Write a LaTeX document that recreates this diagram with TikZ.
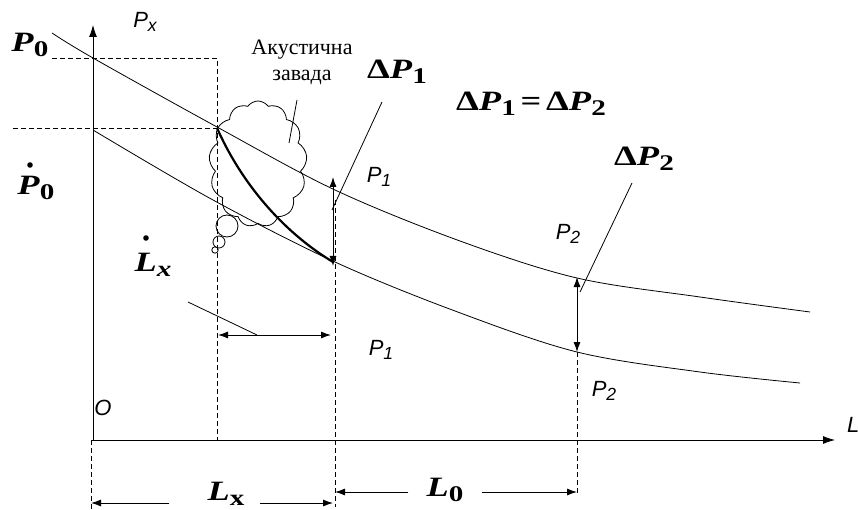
\documentclass[tikz,border=0pt]{standalone}
\usepackage{fontspec}
\usetikzlibrary{arrows.meta,shapes.symbols}
\setmainfont{Liberation Serif}
\newfontfamily\lblfont[FakeStretch=1.3]{Liberation Serif}
\newfontfamily\axfont{Liberation Sans}
\newcommand{\lowidx}[1]{\raisebox{-0.35ex}{\scalebox{0.8}{#1}}}

\begin{document}
\begin{tikzpicture}[
    x=1pt, y=-1pt,
    thin/.style={line width=0.8pt},
    guide/.style={line width=0.8pt, dash pattern=on 5pt off 3pt},
    dim/.style={line width=0.9pt, -{Latex[length=10pt,width=7pt]}},
    ddim/.style={line width=0.9pt, {Latex[length=10pt,width=7pt]}-{Latex[length=10pt,width=7pt]}},
    boldlbl/.style={font=\lblfont\bfseries\fontsize{28}{30}\selectfont, inner sep=0pt},
    axlbl/.style={font=\axfont\itshape\fontsize{22}{24}\selectfont, inner sep=0pt}
]
\useasboundingbox (0,0) rectangle (858,510);

\coordinate (o) at (93,440);
\coordinate (ytop) at (93,25);
\coordinate (xend) at (835,440);
\coordinate (p0l) at (52,58);
\coordinate (p0r) at (217,58);
\coordinate (pxl) at (13,128);
\coordinate (a) at (217,128);
\coordinate (ax) at (217,440);
\coordinate (b) at (333,262);
\coordinate (bu) at (333,177);
\coordinate (bd) at (335,200);
\coordinate (bx) at (335,507);
\coordinate (c) at (577,352);
\coordinate (cu) at (577,277);
\coordinate (cx) at (577,495);
\coordinate (oz) at (91,440);
\coordinate (ozb) at (91,510);

\draw[thin, -{Latex[length=12pt,width=8pt]}] (o) -- (ytop);
\draw[thin, -{Latex[length=12pt,width=8pt]}] (oz) -- (xend);

\draw[thin] plot[smooth, tension=0.55] coordinates {(52,33) (93,58) (217,127) (335,190) (460,241) (577,278) (700,297) (810,312)};
\draw[thin] plot[smooth, tension=0.55] coordinates {(93,130) (213,200) (335,262) (455,311) (577,352) (700,372) (800,383)};

\draw[guide] (p0l) -- (p0r) -- (ax);
\draw[guide] (pxl) -- (a);
\draw[guide] (bd) -- (bx);
\draw[guide] (c) -- (cx);
\draw[guide] (oz) -- (ozb);

\node[cloud, draw, thin, cloud puffs=13, cloud puff arc=110, aspect=0.8, minimum width=98pt, minimum height=126pt] (cl) at (258,164) {};
\draw[thin] (227,226) circle (11);
\draw[thin] (219,242) circle (6);
\draw[thin] (215,250) circle (3.2);
\draw[thin] (297,100) -- (289,143);

\draw[line width=2.2pt] (a) .. controls (240,180) and (280,230) .. (b);

\draw[ddim] (bu) -- ([yshift=-4pt]b);
\draw[ddim] (cu) -- (c);
\draw[ddim] (218,335) -- (331,335);

\node[boldlbl] (dp1) at (397,72) {Δ\textit{P}\lowidx{1}};
\node[boldlbl] (eq) at (531,104) {Δ\textit{P}\lowidx{1}\,=\,Δ\textit{P}\lowidx{2}};
\node[boldlbl] (dp2) at (644,159) {Δ\textit{P}\lowidx{2}};
\node[boldlbl] (p0) at (30,45) {\textit{P}\lowidx{0}};
\node[boldlbl] (p0d) at (36,188) {\textit{P}\lowidx{0}};
\node[boldlbl] (lxd) at (153,265) {\textit{L}\lowidx{\textit{x}}};
\node[boldlbl] (lx) at (226,494) {\textit{L}\lowidx{x}};
\node[boldlbl] (l0) at (445,490) {\textit{L}\lowidx{0}};
\fill (30,165) circle (2.8);
\fill (146,238) circle (2.8);

\node[axlbl] (px) at (145,22) {P\lowidx{x}};
\node[axlbl] (p1a) at (379,177) {P\lowidx{1}};
\node[axlbl] (p1b) at (381,350) {P\lowidx{1}};
\node[axlbl] (p2a) at (568,234) {P\lowidx{2}};
\node[axlbl] (p2b) at (604,391) {P\lowidx{2}};
\node[axlbl] (zero) at (103,408) {O};
\node[axlbl, anchor=west] (ll) at (847,425) {L};

\node[font=\fontsize{22}{26}\selectfont, align=center, inner sep=0pt] (noise) at (302,62) {Акустична\\завада};

\draw[thin] (382,102) -- (332,210);
\draw[thin] (632,183) -- (580,292);
\draw[thin] (188,302) -- (257,335);

\draw[dim] ([xshift=-38pt]lx.west |- 0,503) -- (oz |- 0,503);
\draw[dim] ([xshift=15pt]lx.east |- 0,503) -- (b |- 0,503);
\draw[dim] ([xshift=-18pt]l0.west |- 0,492) -- (bd |- 0,492);
\draw[dim] ([xshift=18pt]l0.east |- 0,492) -- (c |- 0,492);
\end{tikzpicture}
\end{document}
